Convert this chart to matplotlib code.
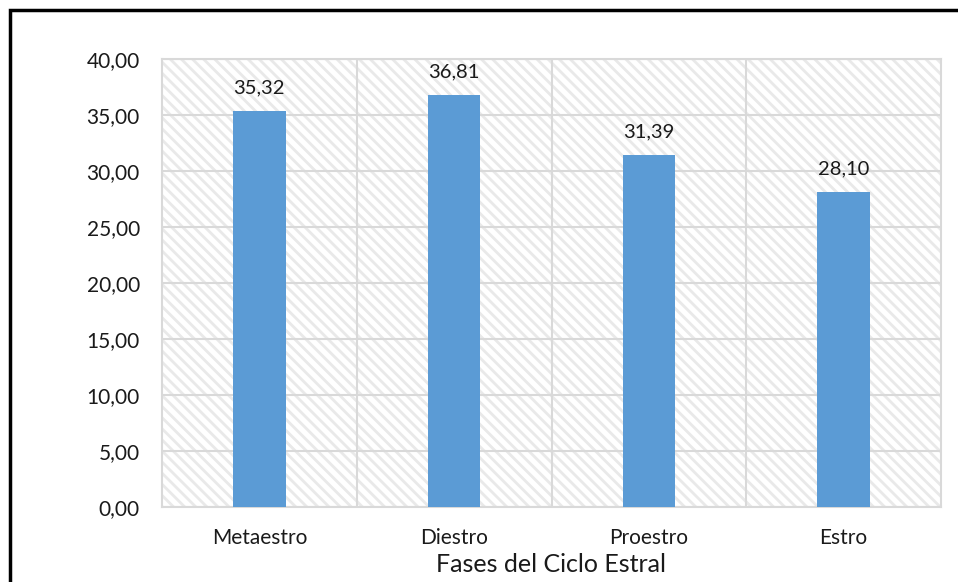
import matplotlib.pyplot as plt
from matplotlib.patches import Rectangle

# data
fases = ['Metaestro', 'Diestro', 'Proestro', 'Estro']
valores = [35.32, 36.81, 31.39, 28.10]
yticks = [0, 5, 10, 15, 20, 25, 30, 35, 40]

plt.rcParams['font.family'] = ['Lato', 'DejaVu Sans']
plt.rcParams['hatch.color'] = '#e9e9e9'
plt.rcParams['hatch.linewidth'] = 2.0

fig = plt.figure(figsize=(9.58, 5.82), dpi=100)
ax = fig.add_axes([162/958, 1 - 507/582, (941 - 162)/958, (507 - 59)/582])

# black frame around the chart (cut off at right and bottom)
frame = Rectangle((9.5/958, -0.05), 1.0, 1 - 9.5/582 + 0.05, transform=fig.transFigure,
                  fill=False, edgecolor='black', linewidth=2.5, zorder=0)
fig.patches.append(frame)

# hatched plot area
ax.add_patch(Rectangle((0, 0), 1, 1, transform=ax.transAxes, facecolor='white',
                       hatch='\\\\\\', edgecolor='#e9e9e9', linewidth=0, zorder=0))

x = list(range(len(fases)))
bars = ax.bar(x, valores, width=0.27, color='#5B9BD5', zorder=3)

for xi, v in zip(x, valores):
    ax.text(xi, v + 1.3, f'{v:.2f}'.replace('.', ','), ha='center', va='bottom',
            fontsize=14.5, color='#1a1a1a', zorder=4)

ax.set_xlim(-0.5, len(fases) - 0.5)
ax.set_ylim(0, 40)
ax.set_yticks(yticks)
ax.set_yticklabels([f'{t:.2f}'.replace('.', ',') for t in yticks], fontsize=15, color='#1a1a1a')
ax.set_xticks(x)
ax.set_xticklabels(fases, fontsize=15, color='#1a1a1a')

# grid: horizontal lines at ticks, vertical lines at category boundaries
for t in yticks:
    ax.axhline(t, color='#d9d9d9', linewidth=1.5, zorder=1)
for b in [0.5, 1.5, 2.5]:
    ax.axvline(b, color='#d9d9d9', linewidth=1.5, zorder=1)

for s in ax.spines.values():
    s.set_color('#d9d9d9')
    s.set_linewidth(1.5)
ax.tick_params(length=0)
ax.tick_params(axis='x', pad=15)
ax.tick_params(axis='y', pad=16)

ax.set_xlabel('Fases del Ciclo Estral', fontsize=18, labelpad=4, color='#1a1a1a')

fig.savefig('out.png', dpi=100)
